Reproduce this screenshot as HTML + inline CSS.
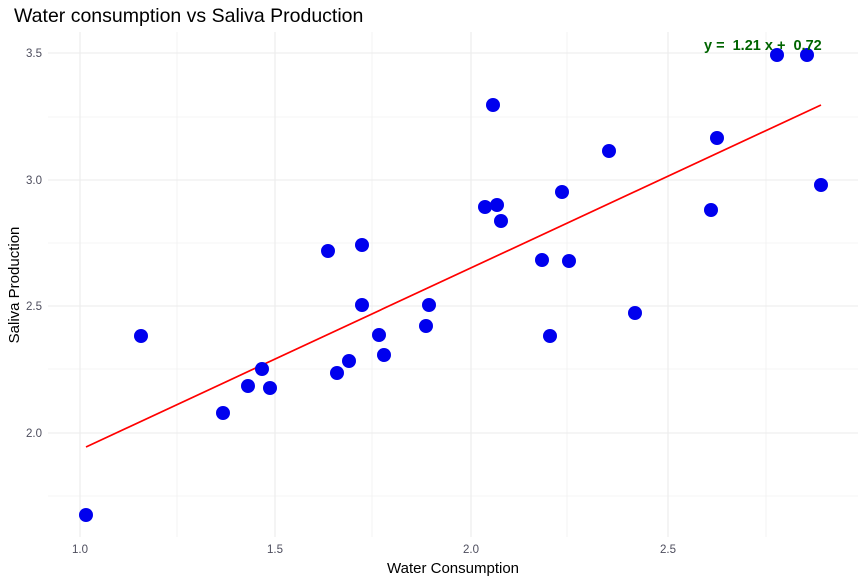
<!DOCTYPE html><html><head><style>body{margin:0;background:#fff}</style></head><body>
<svg width="866" height="583" xmlns="http://www.w3.org/2000/svg" font-family="Liberation Sans, sans-serif">
<rect width="866" height="583" fill="#fff"/>
<g stroke="#ebebeb" stroke-width="0.6">
<line x1="48" x2="858" y1="117" y2="117"/><line x1="48" x2="858" y1="243" y2="243"/><line x1="48" x2="858" y1="369" y2="369"/><line x1="48" x2="858" y1="496" y2="496"/>
<line y1="32" y2="537" x1="177" x2="177"/><line y1="32" y2="537" x1="372" x2="372"/><line y1="32" y2="537" x1="567" x2="567"/><line y1="32" y2="537" x1="766" x2="766"/>
</g>
<g stroke="#ebebeb" stroke-width="1.1">
<line x1="48" x2="858" y1="53" y2="53"/><line x1="48" x2="858" y1="180" y2="180"/><line x1="48" x2="858" y1="306" y2="306"/><line x1="48" x2="858" y1="433" y2="433"/>
<line y1="32" y2="537" x1="80" x2="80"/><line y1="32" y2="537" x1="275" x2="275"/><line y1="32" y2="537" x1="471" x2="471"/><line y1="32" y2="537" x1="668" x2="668"/>
</g>
<line x1="86" y1="447" x2="821" y2="105" stroke="#f00" stroke-width="1.7"/>
<g fill="#0000ee">
<circle cx="86" cy="515" r="7"/><circle cx="141" cy="336" r="7"/><circle cx="223" cy="413" r="7"/><circle cx="248" cy="386" r="7"/><circle cx="262" cy="369" r="7"/><circle cx="270" cy="388" r="7"/><circle cx="328" cy="251" r="7"/><circle cx="337" cy="373" r="7"/><circle cx="349" cy="361" r="7"/><circle cx="362" cy="245" r="7"/><circle cx="362" cy="305" r="7"/><circle cx="379" cy="335" r="7"/><circle cx="384" cy="355" r="7"/><circle cx="426" cy="326" r="7"/><circle cx="429" cy="305" r="7"/><circle cx="485" cy="207" r="7"/><circle cx="493" cy="105" r="7"/><circle cx="497" cy="205" r="7"/><circle cx="501" cy="221" r="7"/><circle cx="542" cy="260" r="7"/><circle cx="550" cy="336" r="7"/><circle cx="562" cy="192" r="7"/><circle cx="569" cy="261" r="7"/><circle cx="609" cy="151" r="7"/><circle cx="635" cy="313" r="7"/><circle cx="711" cy="210" r="7"/><circle cx="717" cy="138" r="7"/><circle cx="777" cy="55" r="7"/><circle cx="807" cy="55" r="7"/><circle cx="821" cy="185" r="7"/>
</g>
<text x="704" y="50" font-size="14.5" font-weight="bold" fill="#006400" xml:space="preserve">y =  1.21 x +  0.72</text>
<g font-size="11.5" fill="#4d4d5d" text-anchor="end">
<text x="42" y="57">3.5</text><text x="42" y="184">3.0</text><text x="42" y="310">2.5</text><text x="42" y="437">2.0</text>
</g>
<g font-size="11.5" fill="#4d4d5d" text-anchor="middle">
<text x="80" y="553">1.0</text><text x="275" y="553">1.5</text><text x="471" y="553">2.0</text><text x="668" y="553">2.5</text>
</g>
<text x="453" y="573" font-size="15" text-anchor="middle" fill="#000">Water Consumption</text>
<text transform="translate(19,285) rotate(-90)" font-size="15" text-anchor="middle" fill="#000">Saliva Production</text>
<text x="14" y="22" font-size="19.5" fill="#000">Water consumption vs Saliva Production</text>
</svg></body></html>
